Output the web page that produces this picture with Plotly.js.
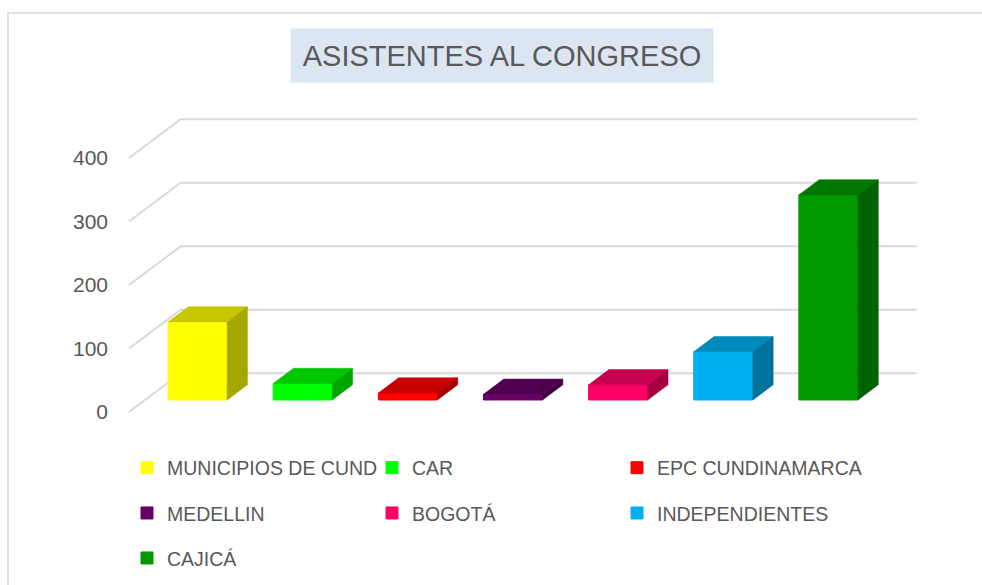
<!DOCTYPE html>
<html>
<head>
<meta charset="utf-8">
<script src="https://cdn.plot.ly/plotly-3.0.1.min.js"></script>
<style>html,body{margin:0;padding:0;background:#fff;}#chart{width:982px;height:585px;}</style>
</head>
<body>
<div id="chart"></div>
<script>
// ---- data ----
const categories = ['MUNICIPIOS DE CUND', 'CAR', 'EPC CUNDINAMARCA', 'MEDELLIN', 'BOGOTÁ', 'INDEPENDIENTES', 'CAJICÁ'];
const values = [123, 26, 11, 9, 24, 76, 323];
const frontColors = ['#ffff00', '#00ff00', '#ff0000', '#660066', '#ff0066', '#00b0f0', '#009900'];
const yTickVals = [0, 100, 200, 300, 400];
const yTickText = ['0', '100', '200', '300', '400'];
const chartTitle = 'ASISTENTES AL CONGRESO';

// ---- 3D projection constants (oblique) ----
const DX = 0.4917;   // full depth, x (category units)
const DY = 61;       // full depth, y (value units)
const F0 = 0.31;     // bar front depth fraction
const F1 = 0.703;    // bar back depth fraction
const BAR_W = 0.562;

const FONT = 'Liberation Sans, Arial, sans-serif';
const TXT = '#595959';

function shade(hex, f) {
  const n = parseInt(hex.slice(1), 16);
  const r = Math.round(((n >> 16) & 255) * f);
  const g = Math.round(((n >> 8) & 255) * f);
  const b = Math.round((n & 255) * f);
  return 'rgb(' + r + ',' + g + ',' + b + ')';
}

const traces = [];
const legendIds = ['legend', 'legend2', 'legend3'];
// front faces (bars) - also provide legend entries
categories.forEach((c, i) => {
  traces.push({
    type: 'bar',
    name: c,
    x: [i + F0 * DX],
    y: [values[i]],
    base: F0 * DY,
    width: BAR_W,
    marker: {color: frontColors[i], line: {width: 1, color: frontColors[i]}},
    legend: legendIds[Math.floor(i / 3)],
    hovertemplate: c + ': ' + values[i] + '<extra></extra>'
  });
});
// top and side faces
categories.forEach((c, i) => {
  const xc = i + F0 * DX;
  const x0 = xc - BAR_W / 2, x1 = xc + BAR_W / 2;
  const dd = (F1 - F0) * DX;
  const b0 = F0 * DY, b1 = F1 * DY;
  const v = values[i];
  const topCol = shade(frontColors[i], 0.78);
  const sideCol = shade(frontColors[i], 0.65);
  traces.push({
    type: 'scatter', mode: 'lines', fill: 'toself', showlegend: false, hoverinfo: 'skip',
    x: [x0, x1, x1 + dd, x0 + dd, x0],
    y: [b0 + v, b0 + v, b1 + v, b1 + v, b0 + v],
    fillcolor: topCol, line: {width: 0.5, color: topCol}
  });
  traces.push({
    type: 'scatter', mode: 'lines', fill: 'toself', showlegend: false, hoverinfo: 'skip',
    x: [x1, x1 + dd, x1 + dd, x1, x1],
    y: [b0, b1, b1 + v, b0 + v, b0],
    fillcolor: sideCol, line: {width: 0.5, color: sideCol}
  });
});

// gridlines (floor/side diagonal + back wall) as shapes below traces
const nCat = categories.length;
const shapes = yTickVals.map(v => ({
  type: 'path', xref: 'x', yref: 'y', layer: 'below',
  path: 'M ' + (-0.5) + ',' + v + ' L ' + (-0.5 + DX) + ',' + (v + DY) + ' L ' + (nCat - 0.5 + DX) + ',' + (v + DY),
  line: {color: '#d9d9d9', width: 2}
}));

// plot-area geometry
const M = {l: 124, r: 60, t: 116, b: 170};
const plotW = 982 - M.l - M.r, plotH = 585 - M.t - M.b;
const pxPerCat = 105.14, pxPerVal = 0.635;
const frontLeftPx = 129, zeroPx = 412;
const xr = [-0.5 - (frontLeftPx - M.l) / pxPerCat, -0.5 + (982 - M.r - frontLeftPx) / pxPerCat];
const yr = [-((585 - M.b) - zeroPx) / pxPerVal, (zeroPx - M.t) / pxPerVal];

// chart-area border
function pxToPaperX(px) { return (px - M.l) / plotW; }
function pxToPaperY(py) { return ((585 - M.b) - py) / plotH; }
shapes.push({
  type: 'rect', xref: 'paper', yref: 'paper', layer: 'below',
  x0: pxToPaperX(8), x1: pxToPaperX(1100), y0: pxToPaperY(700), y1: pxToPaperY(13),
  line: {color: '#d9d9d9', width: 1.5}, fillcolor: 'rgba(0,0,0,0)'
});

const legendBase = {
  orientation: 'h', xref: 'container', yref: 'container',
  x: 127 / 982, xanchor: 'left', yanchor: 'middle',
  entrywidth: 200, bgcolor: 'rgba(0,0,0,0)', borderwidth: 0,
  font: {family: FONT, size: 19.5, color: TXT}
};
const rowY = [468, 513.3, 558.3];

const layout = {
  width: 982, height: 585,
  margin: M,
  paper_bgcolor: '#ffffff', plot_bgcolor: 'rgba(0,0,0,0)',
  barmode: 'overlay',
  showlegend: true,
  xaxis: {range: xr, showgrid: false, zeroline: false, showline: false, showticklabels: false, ticks: '', fixedrange: true},
  yaxis: {range: yr, showgrid: false, zeroline: false, showline: false, ticks: '',
          tickmode: 'array', tickvals: yTickVals, ticktext: yTickText,
          ticklabelstandoff: 15,
          tickfont: {family: FONT, size: 21, color: TXT}, fixedrange: true},
  legend: Object.assign({}, legendBase, {y: 1 - rowY[0] / 585}),
  legend2: Object.assign({}, legendBase, {y: 1 - rowY[1] / 585}),
  legend3: Object.assign({}, legendBase, {y: 1 - rowY[2] / 585}),
  shapes: shapes,
  annotations: [{
    text: chartTitle, xref: 'paper', yref: 'paper',
    x: pxToPaperX(502), y: pxToPaperY(55.5), xanchor: 'center', yanchor: 'middle',
    showarrow: false, width: 422, height: 53, bgcolor: '#dce6f2', borderpad: 0,
    font: {family: FONT, size: 29, color: TXT}
  }]
};

Plotly.newPlot('chart', traces, layout, {displayModeBar: false, staticPlot: false});
</script>
</body>
</html>
